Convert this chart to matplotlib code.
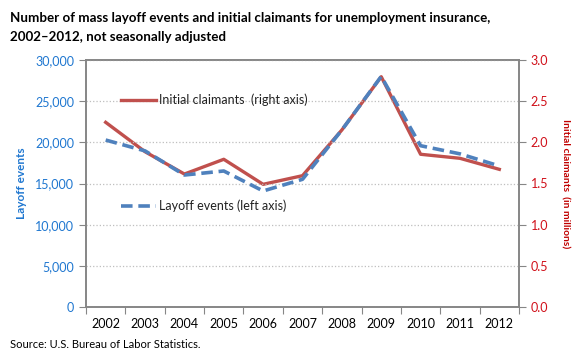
import numpy as np
import matplotlib.pyplot as plt

plt.rcParams['font.family'] = ['Lato', 'DejaVu Sans']

# data
years = ['2002', '2003', '2004', '2005', '2006', '2007', '2008', '2009', '2010', '2011', '2012']
layoff_events = [20280, 18960, 16030, 16520, 14090, 15510, 21500, 28000, 19590, 18600, 17130]
claimants_mil = [2.243, 1.886, 1.615, 1.794, 1.490, 1.595, 2.150, 2.797, 1.855, 1.806, 1.672]

red = '#C0504D'
blue = '#4F81BD'
spine_c = '#868686'

fig = plt.figure(figsize=(5.8, 3.63), dpi=100)
ax = fig.add_axes([86/580, 1 - 307/363, (519 - 86)/580, (307 - 60)/363])
ax2 = ax.twinx()

x = np.arange(len(years))
ax.plot(x, layoff_events, color=blue, linewidth=2.6, dashes=(3.2, 1.6), zorder=3)
ax2.plot(x, claimants_mil, color=red, linewidth=2.4, zorder=2)
ax.set_zorder(ax2.get_zorder() + 1)
ax.patch.set_visible(False)

ax.set_xlim(-0.5, len(years) - 0.5)
ax.set_ylim(0, 30000)
ax2.set_ylim(0, 3.0)
ax.set_yticks(np.arange(0, 30001, 5000))
ax.set_yticklabels([f'{v:,}' for v in range(0, 30001, 5000)])
ax2.set_yticks(np.arange(0, 3.01, 0.5))
ax2.set_yticklabels([f'{v:.1f}' for v in np.arange(0, 3.01, 0.5)])

ax.set_xticks(np.arange(-0.5, len(years), 1.0))
ax.set_xticklabels([])
ax.set_xticks(x, minor=True)
ax.set_xticklabels(years, minor=True)
ax.tick_params(axis='x', which='major', length=5, color=spine_c, direction='out')
ax.tick_params(axis='x', which='minor', length=0, labelsize=9, pad=8, labelcolor='black')

ax.tick_params(axis='y', length=5, color=spine_c, labelsize=9, labelcolor='#1F77D0')
ax2.tick_params(axis='y', length=5, color=spine_c, labelsize=9, labelcolor='#D0101A')

ax.grid(axis='y', linestyle=':', color='#BFBFBF', linewidth=0.9)
for a in (ax, ax2):
    for s in a.spines.values():
        s.set_color(spine_c)
        s.set_linewidth(1.2)

ax.set_ylabel('Layoff events', color='#1F77D0', fontsize=8.5, fontweight='bold', labelpad=6)
ax2.set_ylabel('Initial claimants  (in millions)', color='#C00000', fontsize=7.4,
               fontweight='bold', rotation=-90, labelpad=15)

# in-plot legend
ax.plot([0.4, 1.28], [25140, 25140], color=red, linewidth=2.4)
ax.text(1.36, 25140, 'Initial claimants  (right axis)', fontsize=9, va='center', color='#222222')
ax.plot([0.4, 1.28], [12270, 12270], color=blue, linewidth=2.6, dashes=(3.2, 1.6))
ax.text(1.36, 12270, 'Layoff events (left axis)', fontsize=9, va='center', color='#222222')

fig.text(10/580, 1 - 18/363, 'Number of mass layoff events and initial claimants for unemployment insurance,',
         fontsize=9.6, fontweight='bold', va='center')
fig.text(10/580, 1 - 37/363, '2002\u20132012, not seasonally adjusted',
         fontsize=9.6, fontweight='bold', va='center')
fig.text(10/580, 1 - 345/363, 'Source: U.S. Bureau of Labor Statistics.', fontsize=8, va='center')

fig.savefig('out.png', dpi=100)
